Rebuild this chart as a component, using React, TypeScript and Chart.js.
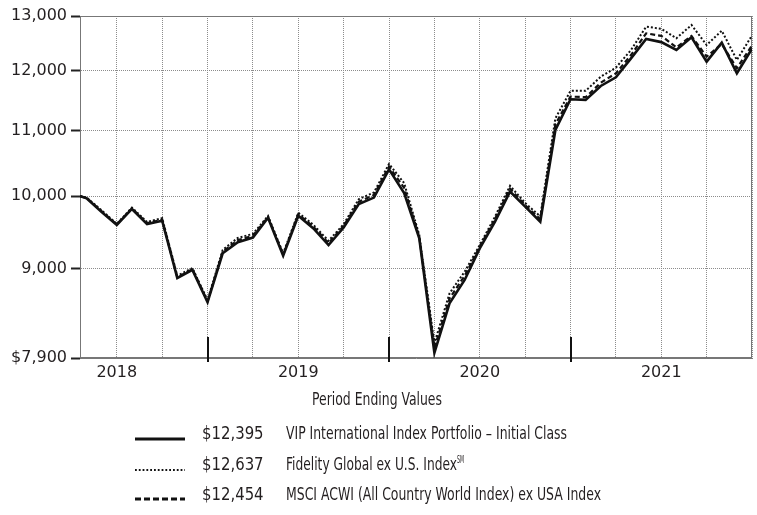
import React, { useEffect, useRef } from 'react';
import { Chart, registerables } from 'chart.js';

Chart.register(...registerables);

// ---------- data ----------
const periodEnds = [
  '2018-04-17', '2018-04-30', '2018-05-31', '2018-06-30', '2018-07-31', '2018-08-31',
  '2018-09-30', '2018-10-31', '2018-11-30', '2018-12-31',
  '2019-01-31', '2019-02-28', '2019-03-31', '2019-04-30', '2019-05-31', '2019-06-30',
  '2019-07-31', '2019-08-31', '2019-09-30', '2019-10-31', '2019-11-30', '2019-12-31',
  '2020-01-31', '2020-02-29', '2020-03-31', '2020-04-30', '2020-05-31', '2020-06-30',
  '2020-07-31', '2020-08-31', '2020-09-30', '2020-10-31', '2020-11-30', '2020-12-31',
  '2021-01-31', '2021-02-28', '2021-03-31', '2021-04-30', '2021-05-31', '2021-06-30',
  '2021-07-31', '2021-08-31', '2021-09-30', '2021-10-31', '2021-11-30', '2021-12-31',
];

const vipInternationalIndex = [
  10000, 9970, 9771, 9589, 9815, 9602, 9649, 8874, 8982, 8568,
  9201, 9352, 9415, 9690, 9170, 9719, 9541, 9312, 9554, 9884, 9979, 10399,
  10044, 9403, 7960, 8555, 8851, 9267, 9633, 10067, 9849, 9635, 11011, 11516,
  11505, 11741, 11890, 12222, 12571, 12515, 12372, 12603, 12164, 12505, 11960, 12395,
];

const fidelityGlobalExUS = [
  10000, 9980, 9795, 9605, 9835, 9630, 9685, 8905, 9005, 8595,
  9245, 9410, 9465, 9715, 9200, 9760, 9590, 9370, 9600, 9956, 10053, 10480,
  10192, 9450, 8072, 8680, 8959, 9312, 9703, 10151, 9900, 9710, 11200, 11657,
  11657, 11900, 12058, 12372, 12800, 12760, 12585, 12831, 12463, 12724, 12194, 12637,
];

const msciAcwiExUSA = [
  10000, 9974, 9782, 9596, 9823, 9614, 9664, 8886, 8991, 8580,
  9220, 9380, 9440, 9700, 9185, 9740, 9565, 9340, 9575, 9920, 10015, 10440,
  10120, 9425, 8015, 8615, 8905, 9290, 9670, 10110, 9870, 9670, 11100, 11561,
  11550, 11797, 11958, 12282, 12676, 12630, 12420, 12627, 12252, 12480, 12047, 12454,
];

const yTickValues = [7900, 9000, 10000, 11000, 12000, 13000];
const yearLabels = ['2018', '2019', '2020', '2021'];
const legendValues = ['$12,395', '$12,637', '$12,454'];
const legendNames = [
  'VIP International Index Portfolio – Initial Class',
  'Fidelity Global ex U.S. Index',
  'MSCI ACWI (All Country World Index) ex USA Index',
];
const xTitle = 'Period Ending Values';

// ---------- helpers ----------
const BASE_YEAR = Number(yearLabels[0]);
function toMonths(d: string): number {
  const [y, m, day] = d.split('-').map(Number);
  const dim = new Date(y, m, 0).getDate();
  return (y - BASE_YEAR) * 12 + (m - 1) + day / dim;
}
const xMin = toMonths(periodEnds[0]);
const xMax = toMonths(periodEnds[periodEnds.length - 1]);
const gridMonths: number[] = [];
for (let v = Math.ceil(xMin / 3) * 3; v <= xMax + 1e-6; v += 3) gridMonths.push(v);
const yearEnds = yearLabels.map((_, i) => (i + 1) * 12).filter((v) => v < xMax - 1e-6);

function yearLabelAt(v: number): string {
  if (Math.abs(((v % 12) + 12) % 12 - 6) > 1e-6) return '';
  const idx = Math.round((v - 6) / 12);
  return yearLabels[idx] ?? '';
}
function formatY(v: number, i: number): string {
  const s = Math.round(v).toLocaleString('en-US');
  return i === 0 ? '$' + s : s;
}

const AXIS_FONT = '"DejaVu Sans", Verdana, sans-serif';
const LEGEND_FONT = '"Liberation Sans Narrow", "DejaVu Sans Condensed", "Open Sans", sans-serif';
const TEXT_COLOR = '#231f20';

const framePlugin = {
  id: 'frame',
  beforeDatasetsDraw(chart: any) {
    const { ctx, chartArea } = chart;
    const l = Math.round(chartArea.left) + 0.5;
    const t = Math.round(chartArea.top) + 0.5;
    const r = Math.round(chartArea.right) - 0.5;
    const b = Math.round(chartArea.bottom) - 0.5;
    ctx.save();
    ctx.strokeStyle = '#777';
    ctx.lineWidth = 1;
    ctx.setLineDash([]);
    ctx.strokeRect(l, t, r - l, b - t);
    ctx.restore();
  },
};

const yearMarkPlugin = {
  id: 'yearMarks',
  afterDatasetsDraw(chart: any) {
    const { ctx, chartArea } = chart;
    const xs = chart.scales.x;
    ctx.save();
    ctx.strokeStyle = '#111';
    ctx.lineWidth = 2;
    ctx.setLineDash([]);
    yearEnds.forEach((v) => {
      const x = Math.round(xs.getPixelForValue(v));
      ctx.beginPath();
      ctx.moveTo(x, chartArea.bottom - 21);
      ctx.lineTo(x, chartArea.bottom + 4);
      ctx.stroke();
    });
    ctx.restore();
  },
};

const measurer = document.createElement('canvas').getContext('2d') as CanvasRenderingContext2D;

function TextAt(props: { text: string; left: number; baseline: number; width: number; size: number }) {
  const { text, left, baseline, width, size } = props;
  const font = `${size}px ${LEGEND_FONT}`;
  measurer.font = font;
  const w = measurer.measureText(text).width || 1;
  const sx = width / w;
  return (
    <div
      style={{
        position: 'absolute',
        left,
        top: baseline - size * 0.85,
        font,
        lineHeight: `${size}px`,
        whiteSpace: 'nowrap',
        transform: `scaleX(${sx})`,
        transformOrigin: '0 0',
        color: TEXT_COLOR,
      }}
    >
      {text}
    </div>
  );
}

function Sample(props: { top: number; dash?: string; width: number }) {
  return (
    <svg style={{ position: 'absolute', left: 135, top: props.top - 4 }} width={51} height={8}>
      <line
        x1={0}
        x2={50}
        y1={4}
        y2={4}
        stroke="#111"
        strokeWidth={props.width}
        strokeDasharray={props.dash}
      />
    </svg>
  );
}

export default function App() {
  const canvasRef = useRef<HTMLCanvasElement | null>(null);

  useEffect(() => {
    const canvas = canvasRef.current;
    if (!canvas) return;
    const mk = (vals: number[]) => periodEnds.map((d, i) => ({ x: toMonths(d), y: vals[i] }));
    const chart = new Chart(canvas, {
      type: 'line',
      data: {
        datasets: [
          {
            label: legendNames[0],
            data: mk(vipInternationalIndex),
            borderColor: '#111',
            borderWidth: 2.6,
            pointRadius: 0,
            fill: false,
            tension: 0,
          },
          {
            label: legendNames[2],
            data: mk(msciAcwiExUSA),
            borderColor: '#111',
            borderWidth: 2.2,
            borderDash: [5, 3],
            pointRadius: 0,
            fill: false,
            tension: 0,
          },
          {
            label: legendNames[1],
            data: mk(fidelityGlobalExUS),
            borderColor: '#111',
            borderWidth: 2,
            borderDash: [2, 2],
            pointRadius: 0,
            fill: false,
            tension: 0,
          },
        ],
      },
      options: {
        animation: false,
        responsive: true,
        maintainAspectRatio: false,
        layout: { padding: { top: 16, right: 4, left: 0, bottom: 0 } },
        plugins: {
          legend: { display: false },
          tooltip: { enabled: false },
          title: { display: false },
        },
        scales: {
          x: {
            type: 'linear',
            bounds: 'data',
            min: xMin,
            max: xMax,
            afterBuildTicks: (s: any) => {
              s.ticks = gridMonths.map((v) => ({ value: v }));
            },
            afterFit: (s: any) => {
              s.height = 32;
            },
            ticks: {
              autoSkip: false,
              maxRotation: 0,
              padding: 5,
              color: TEXT_COLOR,
              font: { family: AXIS_FONT, size: 16 },
              callback: (v: any) => yearLabelAt(Number(v)),
            },
            grid: { color: '#8c8c8c', lineWidth: 1, drawTicks: false },
            border: { display: true, color: '#777', width: 1, dash: [1, 1] },
          },
          y: {
            type: 'logarithmic',
            bounds: 'data',
            min: yTickValues[0],
            max: yTickValues[yTickValues.length - 1],
            afterBuildTicks: (s: any) => {
              s.ticks = yTickValues.map((v) => ({ value: v }));
            },
            afterFit: (s: any) => {
              s.width = 80;
            },
            ticks: {
              autoSkip: false,
              padding: 4,
              color: TEXT_COLOR,
              font: { family: AXIS_FONT, size: 16 },
              callback: (v: any, i: number) => formatY(Number(v), i),
            },
            grid: {
              color: '#8c8c8c',
              lineWidth: 1,
              drawTicks: true,
              tickLength: 9,
              tickColor: '#222',
              tickWidth: 2,
            },
            border: { display: true, color: '#777', width: 1, dash: [1, 1] },
          },
        },
      } as any,
      plugins: [framePlugin, yearMarkPlugin],
    });
    return () => chart.destroy();
  }, []);

  const rowBaselines = [439.3, 470, 500];
  const nameWidths = [281, 171, 315];

  return (
    <div style={{ position: 'absolute', left: 0, top: 0, width: 757, height: 515, background: '#fff' }}>
      <div style={{ position: 'absolute', left: 0, top: 0, width: 757, height: 390 }}>
        <canvas ref={canvasRef} />
      </div>
      <TextAt text={xTitle} left={312} baseline={405.5} width={130} size={18} />
      <Sample top={439} width={3} />
      <Sample top={469.5} width={2} dash="1.8 2" />
      <Sample top={498.5} width={3} dash="6 3" />
      {legendValues.map((v, i) => (
        <TextAt key={'v' + i} text={v} left={201.7} baseline={rowBaselines[i]} width={61.6} size={18} />
      ))}
      {legendNames.map((n, i) => (
        <TextAt key={'n' + i} text={n} left={285.7} baseline={rowBaselines[i]} width={nameWidths[i]} size={18} />
      ))}
      <TextAt text="SM" left={457} baseline={rowBaselines[1] - 7} width={7} size={10} />
    </div>
  );
}
